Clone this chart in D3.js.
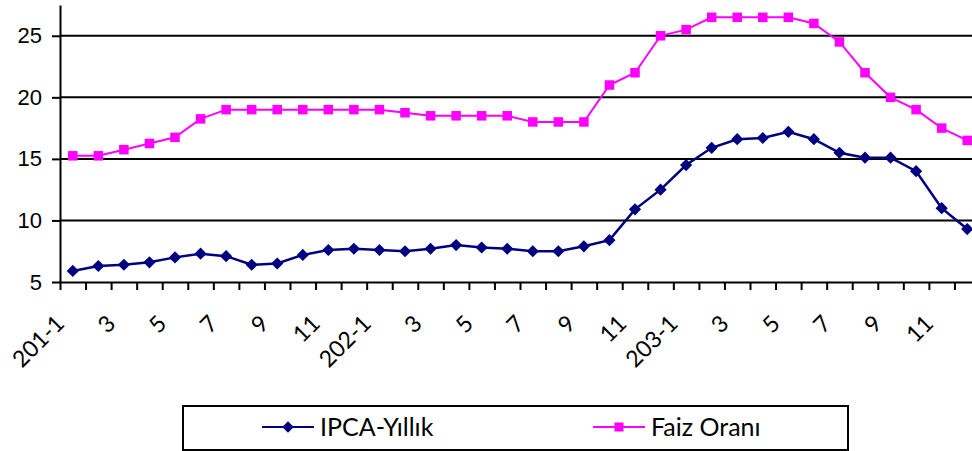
<!DOCTYPE html>
<html>
<head>
<meta charset="utf-8">
<script src="https://cdn.jsdelivr.net/npm/d3@7"></script>
<style>
  html, body { margin: 0; padding: 0; background: #fff; }
  svg { display: block; }
</style>
</head>
<body>
<svg id="chart" width="972" height="451"></svg>
<script>
// Monthly labels, three years
const years = ["201", "202", "203"];
const categories = years.flatMap((yr) =>
  d3.range(1, 13).map((m) => (m === 1 ? `${yr}-1` : String(m)))
);

const ipca = [
  5.9, 6.3, 6.4, 6.6, 7.0, 7.3, 7.1, 6.4, 6.5, 7.2, 7.6, 7.7,
  7.6, 7.5, 7.7, 8.0, 7.8, 7.7, 7.5, 7.5, 7.9, 8.4, 10.9, 12.5,
  14.5, 15.9, 16.6, 16.7, 17.2, 16.6, 15.5, 15.1, 15.1, 14.0, 11.0, 9.3,
];

const faiz = [
  15.25, 15.25, 15.75, 16.25, 16.75, 18.25, 19, 19, 19, 19, 19, 19,
  19, 18.75, 18.5, 18.5, 18.5, 18.5, 18, 18, 18, 21, 22, 25,
  25.5, 26.5, 26.5, 26.5, 26.5, 26, 24.5, 22, 20, 19, 17.5, 16.5,
];

const yTicks = [5, 10, 15, 20, 25];
const seriesNames = ["IPCA-Yıllık", "Faiz Oranı"];

const svg = d3.select("#chart");
const plotLeft = 60, plotRight = 980, plotTop = 5, plotBottom = 282;

// labels repeat across years, so the band scale works on indexes
const x = d3.scaleBand().domain(d3.range(categories.length)).range([plotLeft, plotRight]);
const xEdge = d3.scaleLinear().domain([0, categories.length]).range([plotLeft, plotRight]);
const y = d3.scaleLinear().domain([5, 27.5]).range([plotBottom, plotTop]);
const cx = (i) => x(i) + x.bandwidth() / 2;

// Gridlines
svg.append("g")
  .selectAll("line")
  .data(yTicks.filter((t) => t > 5))
  .join("line")
  .attr("x1", plotLeft)
  .attr("x2", 972)
  .attr("y1", (d) => y(d))
  .attr("y2", (d) => y(d))
  .attr("stroke", "#000")
  .attr("stroke-width", 2);

// Y axis
const yAxis = svg.append("g")
  .attr("transform", `translate(${plotLeft},0)`)
  .call(d3.axisLeft(y).tickValues(yTicks).tickSize(8).tickSizeOuter(0).tickPadding(10));
yAxis.select(".domain").attr("stroke", "#000").attr("stroke-width", 2);
yAxis.selectAll(".tick line").attr("stroke", "#000").attr("stroke-width", 2);
yAxis.selectAll(".tick text")
  .attr("font-family", "'Liberation Sans', Arial, sans-serif")
  .attr("font-size", 22)
  .attr("fill", "#000");

// X axis: ticks on band edges
const xAxis = svg.append("g")
  .attr("transform", `translate(0,${plotBottom})`)
  .call(d3.axisBottom(xEdge)
    .tickValues(d3.range(0, categories.length))
    .tickSize(8)
    .tickSizeOuter(0)
    .tickFormat(""));
xAxis.select(".domain").attr("stroke", "#000").attr("stroke-width", 2);
xAxis.selectAll(".tick line").attr("stroke", "#000").attr("stroke-width", 2);

// Rotated category labels, every other month
svg.append("g")
  .selectAll("text")
  .data(d3.range(0, categories.length, 2))
  .join("text")
  .attr("transform", (i) => `translate(${cx(i) - 7},325) rotate(-45)`)
  .attr("text-anchor", "end")
  .attr("font-family", "Lato, sans-serif")
  .attr("font-size", 23)
  .attr("fill", "#000")
  .text((i) => categories[i]);

// Lines + markers
const line = d3.line()
  .x((d, i) => cx(i))
  .y((d) => y(d));

svg.append("path")
  .datum(faiz)
  .attr("d", line)
  .attr("fill", "none")
  .attr("stroke", "#ff00ff")
  .attr("stroke-width", 2);

svg.append("path")
  .datum(ipca)
  .attr("d", line)
  .attr("fill", "none")
  .attr("stroke", "#000080")
  .attr("stroke-width", 2.5);

const sq = 9.5;
svg.append("g")
  .selectAll("rect")
  .data(faiz)
  .join("rect")
  .attr("x", (d, i) => cx(i) - sq / 2)
  .attr("y", (d) => y(d) - sq / 2)
  .attr("width", sq)
  .attr("height", sq)
  .attr("fill", "#ff00ff");

const diamond = d3.symbol().type(d3.symbolSquare).size(74);
svg.append("g")
  .selectAll("path")
  .data(ipca)
  .join("path")
  .attr("transform", (d, i) => `translate(${cx(i)},${y(d)}) rotate(45)`)
  .attr("d", diamond)
  .attr("fill", "#000080");

// Legend
const legend = svg.append("g");
legend.append("rect")
  .attr("x", 183)
  .attr("y", 406)
  .attr("width", 665)
  .attr("height", 44)
  .attr("fill", "#fff")
  .attr("stroke", "#000")
  .attr("stroke-width", 2);

const legendItems = [
  { name: seriesNames[0], color: "#000080", x0: 262, marker: "diamond" },
  { name: seriesNames[1], color: "#ff00ff", x0: 593, marker: "square" },
];
const ly = 427;
legendItems.forEach((it) => {
  legend.append("line")
    .attr("x1", it.x0).attr("x2", it.x0 + 52)
    .attr("y1", ly).attr("y2", ly)
    .attr("stroke", it.color)
    .attr("stroke-width", 2);
  if (it.marker === "square") {
    legend.append("rect")
      .attr("x", it.x0 + 26 - 4.5).attr("y", ly - 4.5)
      .attr("width", 9).attr("height", 9)
      .attr("fill", it.color);
  } else {
    legend.append("path")
      .attr("transform", `translate(${it.x0 + 26},${ly}) rotate(45)`)
      .attr("d", d3.symbol().type(d3.symbolSquare).size(64))
      .attr("fill", it.color);
  }
  legend.append("text")
    .attr("x", it.x0 + 58)
    .attr("y", ly + 9)
    .attr("font-family", "Lato, sans-serif")
    .attr("font-size", 25)
    .attr("fill", "#000")
    .text(it.name);
});
</script>
</body>
</html>
